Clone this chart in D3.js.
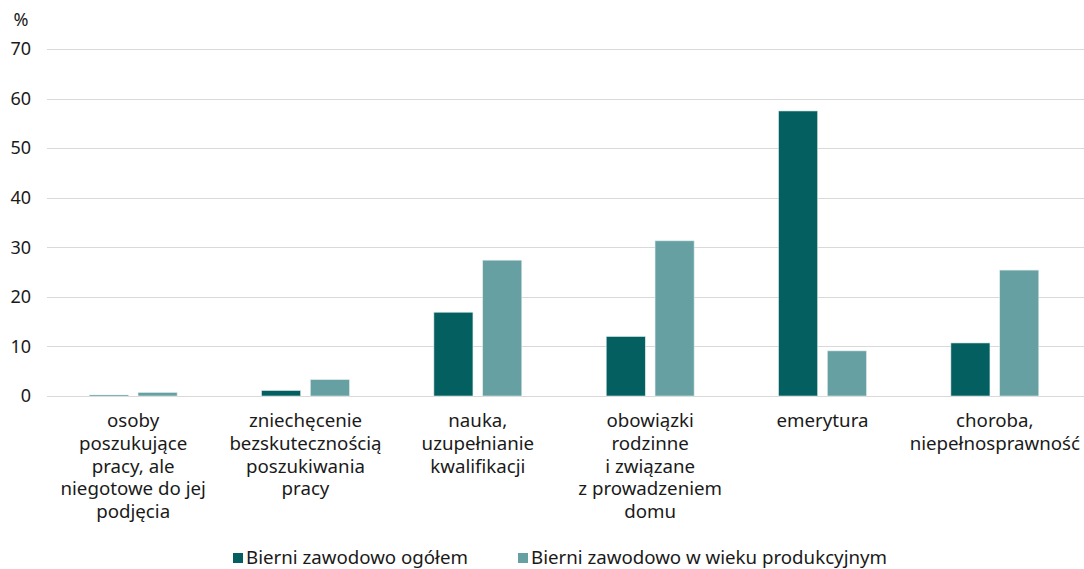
<!DOCTYPE html>
<html>
<head>
<meta charset="utf-8">
<script src="https://cdn.jsdelivr.net/npm/d3@7"></script>
<style>
  body { margin: 0; background: #fff; }
  svg text { font-family: "Noto Sans", "Open Sans", sans-serif; fill: #1a1a1a; }
</style>
</head>
<body>
<div id="chart"></div>
<script>
var categories = [
    ["osoby", "poszukujące", "pracy, ale", "niegotowe do jej", "podjęcia"],
    ["zniechęcenie", "bezskutecznością", "poszukiwania", "pracy"],
    ["nauka,", "uzupełnianie", "kwalifikacji"],
    ["obowiązki", "rodzinne", "i związane", "z prowadzeniem", "domu"],
    ["emerytura"],
    ["choroba,", "niepełnosprawność"]
];
var seriesNames = ["Bierni zawodowo ogółem", "Bierni zawodowo w wieku produkcyjnym"];
var ogolem = [0.2, 1.1, 16.9, 12.0, 57.5, 10.7];
var produkcyjny = [0.7, 3.3, 27.4, 31.3, 9.1, 25.4];
var yTicks = [0, 10, 20, 30, 40, 50, 60, 70];
var colors = ["#035f60", "#67a0a2"];

var w = 1084, h = 569;

var svg = d3.select("#chart").append("svg")
    .attr("width", w)
    .attr("height", h);

var x0 = d3.scaleBand()
    .domain(d3.range(categories.length))
    .range([47, 1081])
    .paddingInner(0.49)
    .paddingOuter(0.245);

var x1 = d3.scaleBand()
    .domain([0, 1])
    .range([0, x0.bandwidth()])
    .paddingInner(0.2);

var y = d3.scaleLinear()
    .domain([0, 70])
    .range([396, 49]);

// gridlines
svg.append("g")
    .selectAll("line")
    .data(yTicks)
    .enter()
    .append("line")
    .attr("x1", 47)
    .attr("x2", w)
    .attr("y1", function (d) { return Math.round(y(d)) + 0.5; })
    .attr("y2", function (d) { return Math.round(y(d)) + 0.5; })
    .attr("stroke", "#d9d9d9")
    .attr("stroke-width", 1);

// y axis labels
var yAxis = d3.axisLeft(y).tickValues(yTicks).tickSize(0).tickPadding(0);
svg.append("g")
    .attr("transform", "translate(31,0)")
    .call(yAxis)
    .call(function (g) { g.select(".domain").remove(); })
    .selectAll("text")
    .style("font-size", "18px")
    .style("font-family", "\"Noto Sans\", sans-serif")
    .attr("fill", "#1a1a1a");

svg.append("text")
    .attr("x", 21)
    .attr("y", 26)
    .attr("text-anchor", "middle")
    .style("font-size", "18px")
    .text("%");

// bars
var rows = categories.map(function (c, i) {
    return [ogolem[i], produkcyjny[i]];
});

var groups = svg.append("g")
    .selectAll("g")
    .data(rows)
    .enter()
    .append("g")
    .attr("transform", function (d, i) { return "translate(" + x0(i) + ",0)"; });

groups.selectAll("rect")
    .data(function (d) { return d; })
    .enter()
    .append("rect")
    .attr("x", function (d, j) { return x1(j); })
    .attr("y", function (d) { return y(d); })
    .attr("width", x1.bandwidth())
    .attr("height", function (d) { return y(0) - y(d); })
    .attr("fill", function (d, j) { return colors[j]; })
    .attr("stroke", "#dbe9e9")
    .attr("stroke-width", 0.6);

// category labels, one text per line
var lineH = 22.8;
categories.forEach(function (lines, i) {
    svg.append("g")
        .selectAll("text")
        .data(lines)
        .enter()
        .append("text")
        .attr("x", x0(i) + x0.bandwidth() / 2)
        .attr("y", function (d, k) { return 427 + k * lineH; })
        .attr("text-anchor", "middle")
        .style("font-size", "18.7px")
        .text(function (d) { return d; });
});

// legend
var legendX = [233, 518];
var legend = svg.append("g")
    .selectAll("g")
    .data(seriesNames)
    .enter()
    .append("g")
    .attr("transform", function (d, i) { return "translate(" + legendX[i] + ",553)"; });

legend.append("rect")
    .attr("width", 10)
    .attr("height", 10)
    .attr("fill", function (d, i) { return colors[i]; });

legend.append("text")
    .attr("x", 13)
    .attr("y", 11)
    .style("font-size", "18.7px")
    .text(function (d) { return d; });
</script>
</body>
</html>
